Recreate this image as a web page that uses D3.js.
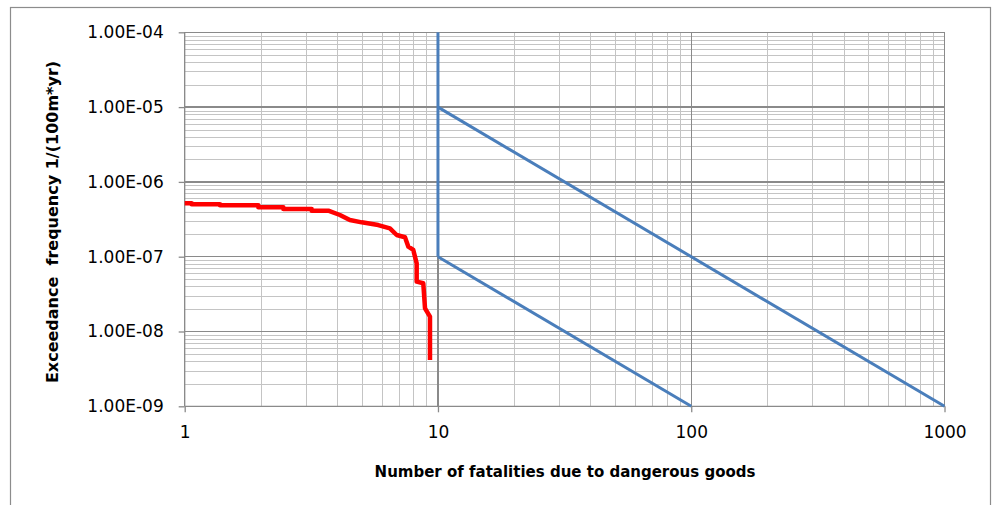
<!DOCTYPE html>
<html>
<head>
<meta charset="utf-8">
<script src="https://cdn.jsdelivr.net/npm/d3@7/dist/d3.min.js"></script>
<style>
  html, body { margin: 0; padding: 0; background: #fff; }
  svg { display: block; }
  text { font-family: "DejaVu Sans", "Liberation Sans", sans-serif; fill: #000; }
</style>
</head>
<body>
<svg id="chart" width="993" height="505"></svg>
<script>
// F-N curve: number of fatalities vs exceedance frequency (stepped cumulative curve)
const fatalities = [1, 1.065, 1.065, 1.378, 1.378, 1.953, 1.953, 2.452, 2.452, 3.172, 3.172, 3.69, 4.10, 4.49, 5.0, 5.81, 6.46, 6.87, 7.41, 7.64, 7.99, 8.24, 8.24, 8.75, 8.89, 9.30, 9.30];
const frequency  = [5.17e-7, 5.17e-7, 5.01e-7, 5.01e-7, 4.86e-7, 4.86e-7, 4.57e-7, 4.57e-7, 4.34e-7, 4.34e-7, 4.12e-7, 4.12e-7, 3.61e-7, 3.09e-7, 2.88e-7, 2.65e-7, 2.39e-7, 1.95e-7, 1.82e-7, 1.36e-7, 1.23e-7, 8.15e-8, 4.64e-8, 4.41e-8, 2.04e-8, 1.58e-8, 4.16e-9];

// Criterion lines (upper and lower limits)
const limitVertical = [[10, 1e-4], [10, 1e-7]];
const limitUpper    = [[10, 1e-5], [1000, 1e-9]];
const limitLower    = [[10, 1e-7], [100, 1e-9]];

const xTicks = [1, 10, 100, 1000];
const yTicks = [1e-4, 1e-5, 1e-6, 1e-7, 1e-8, 1e-9];
const yTickLabels = ["1.00E-04", "1.00E-05", "1.00E-06", "1.00E-07", "1.00E-08", "1.00E-09"];

const xTitle = "Number of fatalities due to dangerous goods";
const yTitle = "Exceedance  frequency 1/(100m*yr)";

const svg = d3.select("#chart");
const plot = { left: 184.7, right: 944.5, top: 32.3, bottom: 406.3 };

const x = d3.scaleLog().domain([1, 1000]).range([plot.left, plot.right]);
const y = d3.scaleLog().domain([1e-9, 1e-4]).range([plot.bottom, plot.top]);

// outer chart frame
svg.append("rect")
  .attr("x", 10.5).attr("y", 7.5).attr("width", 980).attr("height", 520)
  .attr("fill", "#fff").attr("stroke", "#8c8c8c").attr("stroke-width", 1.2);

// minor gridlines
const minorX = [];
for (let d = 1; d < 1000; d *= 10) for (let k = 2; k <= 9; k++) minorX.push(d * k);
const minorY = [];
for (let d = 1e-9; d < 1e-4 * 0.99; d *= 10) for (let k = 2; k <= 9; k++) minorY.push(d * k);

const grid = svg.append("g").attr("shape-rendering", "crispEdges");
grid.selectAll("line.mx").data(minorX).join("line")
  .attr("x1", d => Math.round(x(d)) + 0.5).attr("x2", d => Math.round(x(d)) + 0.5)
  .attr("y1", plot.top).attr("y2", plot.bottom)
  .attr("stroke", "#c4c4c4").attr("stroke-width", 1);
grid.selectAll("line.my").data(minorY).join("line")
  .attr("y1", d => Math.round(y(d)) + 0.5).attr("y2", d => Math.round(y(d)) + 0.5)
  .attr("x1", plot.left).attr("x2", plot.right)
  .attr("stroke", "#c4c4c4").attr("stroke-width", 1);

// major gridlines
grid.selectAll("line.Mx").data(xTicks).join("line")
  .attr("x1", d => x(d)).attr("x2", d => x(d))
  .attr("y1", plot.top).attr("y2", plot.bottom)
  .attr("stroke", "#8a8a8a").attr("stroke-width", 1.3);
grid.selectAll("line.My").data(yTicks).join("line")
  .attr("y1", d => y(d)).attr("y2", d => y(d))
  .attr("x1", plot.left).attr("x2", plot.right)
  .attr("stroke", "#8a8a8a").attr("stroke-width", 1.3);

// axes
const xAxis = d3.axisBottom(x).tickValues(xTicks).tickSize(6).tickPadding(14).tickFormat(d3.format("d"));
const yAxis = d3.axisLeft(y).tickValues(yTicks).tickSize(6).tickPadding(15).tickFormat((d, i) => yTickLabels[i]);

const gx = svg.append("g").attr("transform", `translate(0,${plot.bottom})`).call(xAxis);
const gy = svg.append("g").attr("transform", `translate(${plot.left},0)`).call(yAxis);
[gx, gy].forEach(g => {
  g.select(".domain").attr("stroke", "#8a8a8a").attr("stroke-width", 1.3);
  g.selectAll(".tick line").attr("stroke", "#8a8a8a").attr("stroke-width", 1.3);
  g.selectAll("text").attr("font-family", "DejaVu Sans, sans-serif").attr("font-size", 17).attr("fill", "#000");
});
gy.select(".domain").attr("d", `M0,${plot.top}V${plot.bottom}`);
gx.select(".domain").attr("d", `M${plot.left},0H${plot.right}`);

// criterion lines
const line = d3.line().x(d => x(d[0])).y(d => y(d[1]));
[limitVertical, limitUpper, limitLower].forEach(seg => {
  svg.append("path").datum(seg).attr("d", line)
    .attr("fill", "none").attr("stroke", "#4a7ebb").attr("stroke-width", 3);
});

// F-N curve
const fn = fatalities.map((f, i) => [f, frequency[i]]);
svg.append("path").datum(fn)
  .attr("d", line)
  .attr("fill", "none").attr("stroke", "#ff0000").attr("stroke-width", 4.5)
  .attr("stroke-linejoin", "round").attr("stroke-linecap", "butt");

// axis titles
svg.append("text")
  .attr("x", 565).attr("y", 477)
  .attr("text-anchor", "middle").attr("font-size", 15).attr("font-weight", "bold")
  .text(xTitle);
svg.append("text")
  .attr("transform", `translate(58,${222}) rotate(-90)`)
  .attr("text-anchor", "middle").attr("font-size", 16).attr("font-weight", "bold")
  .style("white-space", "pre")
  .text(yTitle);
</script>
</body>
</html>
